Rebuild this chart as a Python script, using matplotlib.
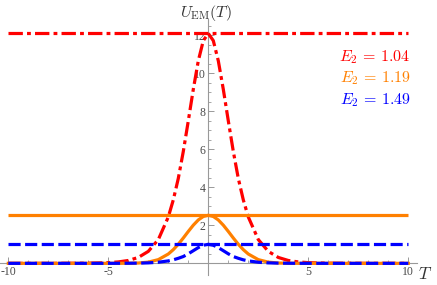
import matplotlib
matplotlib.use("Agg")
import matplotlib.pyplot as plt

plt.rcParams["mathtext.fontset"] = "cm"
plt.rcParams["axes.unicode_minus"] = False
plt.rcParams["font.family"] = ["Liberation Serif", "DejaVu Serif"]

# readings from the picture
T = [-10, -8, -6, -5, -4.5, -4, -3.5, -3, -2.5, -2, -1.75, -1.5, -1.25, -1, -0.75, -0.5, -0.25,
     0, 0.25, 0.5, 0.75, 1, 1.25, 1.5, 1.75, 2, 2.5, 3, 3.5, 4, 4.5, 5, 6, 8, 10]
red_half = [12.1, 11.72, 10.66, 9.16, 7.50, 5.89, 4.47, 3.34, 2.44, 1.25, 0.63, 0.31, 0.15,
            0.074, 0.036, 0.009, 0.0, 0.0]
orange_half = [2.53, 2.466, 2.284, 2.009, 1.679, 1.333, 1.006, 0.721, 0.491, 0.195, 0.063,
               0.017, 0.004, 0.0, 0.0, 0.0, 0.0, 0.0]
blue_half = [1.0, 0.953, 0.829, 0.666, 0.501, 0.359, 0.265, 0.185, 0.128, 0.058, 0.025,
             0.011, 0.005, 0.002, 0.001, 0.0, 0.0, 0.0]
u_red = red_half[:0:-1] + red_half
u_orange = orange_half[:0:-1] + orange_half
u_blue = blue_half[:0:-1] + blue_half

levels = [12.1, 2.53, 1.0]
labels = [r"$E_2\,=\,1.04$", r"$E_2\,=\,1.19$", r"$E_2\,=\,1.49$"]
colors = ["#ff0000", "#ff8000", "#0000ff"]

fig = plt.figure(figsize=(4.37, 2.85), dpi=100)
ax = fig.add_axes([0, 0, 1, 1])
ax.set_xlim(-10.415, 11.435)
ax.set_ylim(-1.14, 13.86)

lw = 2.3
red_dash = (4.5, 1.3, 1.2, 1.3)
blue_dash = (3.8, 1.4)

ax.hlines(levels[0], -10, 10, color=colors[0], lw=lw, linestyle=(0, red_dash))
ax.plot(T, u_red, color=colors[0], lw=lw, linestyle=(0, red_dash))
ax.hlines(levels[1], -10, 10, color=colors[1], lw=lw)
ax.plot(T, u_orange, color=colors[1], lw=lw)
ax.hlines(levels[2], -10, 10, color=colors[2], lw=lw, linestyle=(0, blue_dash))
ax.plot(T, u_blue, color=colors[2], lw=lw, linestyle=(0, blue_dash))

# axes through the origin, Mathematica style
for side in ["top", "right"]:
    ax.spines[side].set_visible(False)
ax.spines["left"].set_position(("data", 0))
ax.spines["bottom"].set_position(("data", 0))
ax.spines["left"].set_bounds(-0.6, 12.85)
ax.spines["bottom"].set_bounds(-10.4, 10.45)
for s in ["left", "bottom"]:
    ax.spines[s].set_color("#999999")
    ax.spines[s].set_linewidth(0.8)
    ax.spines[s].set_zorder(0.5)

ax.set_xticks([-10, -5, 5, 10])
ax.set_xticklabels(["-10", "-5", "5", "10"])
ax.set_xticks([t for t in range(-10, 11) if t % 5 != 0], minor=True)
ax.set_yticks([2, 4, 6, 8, 10, 12])
ax.set_yticks([v * 0.5 for v in range(1, 26) if v % 4 != 0], minor=True)
ax.tick_params(which="both", direction="in", color="#999999", labelcolor="#4a4a4a",
               labelsize=8.5)
ax.tick_params(which="major", length=4, width=0.7, pad=2)
ax.tick_params(which="minor", length=2.3, width=0.6)
ax.tick_params(axis="y", which="major", pad=2)

ax.text(-0.1, 13.2, r"$U_{\rm EM}(T)$", ha="center", va="center", fontsize=11.5, color="#333333")
ax.text(10.85, -0.62, "$T$", ha="center", va="center", fontsize=12.5, color="#333333")

for lab, col, yv in zip(labels, colors, [10.86, 9.75, 8.59]):
    ax.text(10.1, yv, lab, ha="right", va="center", fontsize=11.5, color=col)

fig.savefig("out.png", dpi=100)
